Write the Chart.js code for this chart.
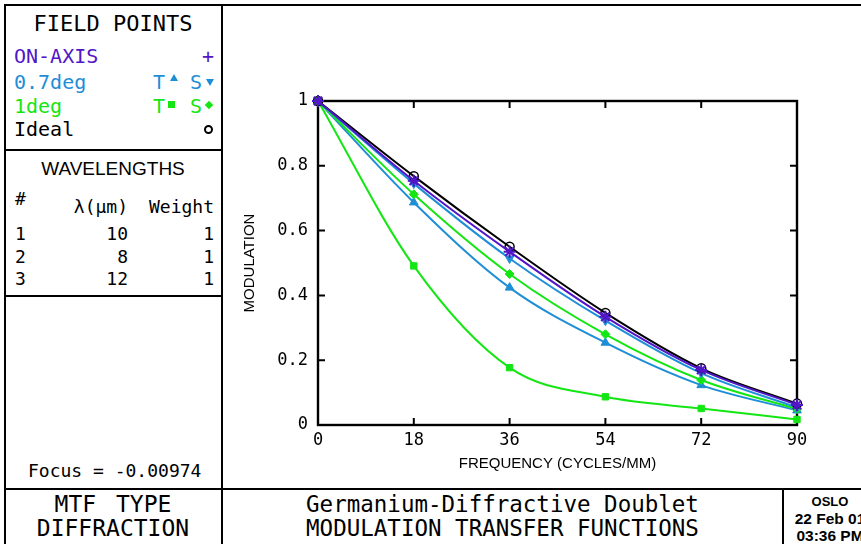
<!DOCTYPE html>
<html>
<head>
<meta charset="UTF-8">
<script src="https://cdn.jsdelivr.net/npm/chart.js"></script>
<style>
  body { margin: 0; background: #fff; }
  #page { position: relative; width: 861px; height: 544px; overflow: hidden; background: #fff; }
  .ln { position: absolute; background: #000; }
  .tx { position: absolute; white-space: pre; line-height: 1; font-family: "DejaVu Sans Mono", monospace; color: #000; }
  .sm { font-family: "Liberation Sans", sans-serif; font-weight: bold; }
  #plot { position: absolute; left: 223px; top: 6px; }
</style>
</head>
<body>
<div id="page">
  <!-- frame -->
  <div class="ln" style="left:4px;top:4px;width:857px;height:2px"></div>
  <div class="ln" style="left:4px;top:4px;width:2px;height:540px"></div>
  <div class="ln" style="left:221px;top:4px;width:2px;height:540px"></div>
  <div class="ln" style="left:4px;top:149px;width:218px;height:2px"></div>
  <div class="ln" style="left:4px;top:295px;width:218px;height:2px"></div>
  <div class="ln" style="left:4px;top:488px;width:857px;height:2px"></div>
  <div class="ln" style="left:782px;top:488px;width:2px;height:56px"></div>

  <!-- field points -->
  <div class="tx" style="left:4px;width:218px;text-align:center;top:13px;font-size:22px">FIELD POINTS</div>
  <div class="tx" style="left:14px;top:46px;font-size:20px;color:#5216c8">ON-AXIS</div>
  <div class="tx" style="left:202px;top:46px;font-size:20px;color:#5216c8">+</div>
  <div class="tx" style="left:14px;top:72px;font-size:20px;color:#1e8ed6">0.7deg</div>
  <div class="tx" style="left:153px;top:72px;font-size:20px;color:#1e8ed6">T</div>
  <div class="tx" style="left:190px;top:72px;font-size:20px;color:#1e8ed6">S</div>
  <div style="position:absolute;left:170px;top:74px;width:0;height:0;border-left:4px solid transparent;border-right:4px solid transparent;border-bottom:7px solid #1e8ed6"></div>
  <div style="position:absolute;left:206px;top:79px;width:0;height:0;border-left:4px solid transparent;border-right:4px solid transparent;border-top:7px solid #1e8ed6"></div>
  <div class="tx" style="left:14px;top:96px;font-size:20px;color:#14e614">1deg</div>
  <div class="tx" style="left:153px;top:96px;font-size:20px;color:#14e614">T</div>
  <div class="tx" style="left:190px;top:96px;font-size:20px;color:#14e614">S</div>
  <div style="position:absolute;left:168px;top:101px;width:7px;height:7px;background:#14e614"></div>
  <div style="position:absolute;left:206px;top:102px;width:6px;height:6px;background:#14e614;transform:rotate(45deg)"></div>
  <div class="tx" style="left:14px;top:119px;font-size:20px">Ideal</div>
  <div style="position:absolute;left:204px;top:125px;width:5px;height:5px;border:2px solid #000;border-radius:50%"></div>

  <!-- wavelengths -->
  <div class="tx" style="left:4px;width:218px;text-align:center;top:159px;font-size:19px;font-family:'Liberation Sans',sans-serif">WAVELENGTHS</div>
  <div class="tx" style="left:15px;top:190px;font-size:18px">#</div>
  <div class="tx" style="left:57px;width:71px;text-align:right;top:198px;font-size:18px">λ(μm)</div>
  <div class="tx" style="left:140px;width:74px;text-align:right;top:198px;font-size:18px">Weight</div>
  <div id="wlRows"></div>

  <div class="tx" style="left:28px;top:462px;font-size:18px">Focus = -0.00974</div>

  <!-- title block -->
  <div class="tx" style="left:4px;width:218px;text-align:center;top:493px;font-size:23px;word-spacing:6px">MTF TYPE</div>
  <div class="tx" style="left:4px;width:218px;text-align:center;top:517px;font-size:23px">DIFFRACTION</div>
  <div class="tx" style="left:222px;width:561px;text-align:center;top:493px;font-size:22.5px">Germanium-Diffractive Doublet</div>
  <div class="tx" style="left:222px;width:561px;text-align:center;top:517px;font-size:22.5px">MODULATION TRANSFER FUNCTIONS</div>
  <div class="tx sm" style="left:784px;width:92px;text-align:center;top:495px;font-size:13px">OSLO</div>
  <div class="tx sm" style="left:784px;width:92px;text-align:center;top:511px;font-size:15.5px">22 Feb 01</div>
  <div class="tx sm" style="left:784px;width:92px;text-align:center;top:528px;font-size:15.5px">03:36 PM</div>

  <canvas id="plot" width="638" height="482"></canvas>
</div>

<script>
// wavelength table
const wlIndex = ['1', '2', '3'];
const wlMicrons = ['10', '8', '12'];
const wlWeight = ['1', '1', '1'];

// MTF data (frequency in cycles/mm)
const freq = [0, 18, 36, 54, 72, 90];
const ideal  = [1, 0.768, 0.550, 0.346, 0.175, 0.066];
const onAxis = [1, 0.754, 0.535, 0.334, 0.170, 0.062];
const s07    = [1, 0.745, 0.514, 0.322, 0.160, 0.054];
const t07    = [1, 0.687, 0.424, 0.254, 0.123, 0.045];
const s1     = [1, 0.712, 0.466, 0.280, 0.139, 0.049];
const t1     = [1, 0.491, 0.177, 0.087, 0.051, 0.017];

const yTicks = [0, 0.2, 0.4, 0.6, 0.8, 1];

const rows = document.getElementById('wlRows');
const rowTops = [225, 248, 270];
wlIndex.forEach((n, i) => {
    rows.innerHTML +=
        `<div class="tx" style="left:15px;top:${rowTops[i]}px;font-size:18px">${n}</div>` +
        `<div class="tx" style="left:60px;width:68px;text-align:right;top:${rowTops[i]}px;font-size:18px">${wlMicrons[i]}</div>` +
        `<div class="tx" style="left:150px;width:64px;text-align:right;top:${rowTops[i]}px;font-size:18px">${wlWeight[i]}</div>`;
});

const PURPLE = '#5216c8', BLUE = '#1e8ed6', GREEN = '#14e614';

function series(vals, color, style, extra = {}) {
    return {
        data: freq.map((f, i) => ({ x: f, y: vals[i] })),
        borderColor: color,
        backgroundColor: color,
        pointBorderColor: color,
        pointBackgroundColor: color,
        borderWidth: 2,
        pointStyle: style,
        pointRadius: 5,
        pointBorderWidth: 1,
        cubicInterpolationMode: 'monotone',
        clip: false,
        ...extra
    };
}

// inward tick marks + plot box
const boxPlugin = {
    id: 'box',
    beforeDatasetsDraw(chart) {
        const { ctx, chartArea: a, scales } = chart;
        ctx.save();
        ctx.strokeStyle = '#000';
        ctx.lineWidth = 2.4;
        ctx.strokeRect(a.left, a.top, a.right - a.left, a.bottom - a.top);
        ctx.beginPath();
        ctx.lineWidth = 2;
        freq.forEach(v => {
            const px = scales.x.getPixelForValue(v);
            ctx.moveTo(px, a.bottom); ctx.lineTo(px, a.bottom - 7);
            ctx.moveTo(px, a.top); ctx.lineTo(px, a.top + 7);
        });
        yTicks.forEach(v => {
            const py = scales.y.getPixelForValue(v);
            ctx.moveTo(a.left, py); ctx.lineTo(a.left + 7, py);
            ctx.moveTo(a.right, py); ctx.lineTo(a.right - 7, py);
        });
        ctx.stroke();
        ctx.restore();
    }
};

Chart.defaults.font.family = "'DejaVu Sans Mono', monospace";
Chart.defaults.color = '#000';

new Chart(document.getElementById('plot'), {
    type: 'line',
    data: {
        datasets: [
            series(onAxis, PURPLE, 'star', { pointRadius: 6, pointBorderWidth: 2 }),
            series(ideal, '#000', 'circle', { pointBackgroundColor: 'rgba(0,0,0,0)', pointBorderWidth: 1.5, pointRadius: 4.5 }),
            series(s07, BLUE, 'triangle', { pointRotation: 180 }),
            series(s1, GREEN, 'rectRot', { pointRadius: 4.5 }),
            series(t07, BLUE, 'triangle'),
            series(t1, GREEN, 'rect', { pointRadius: 4.5 })
        ]
    },
    options: {
        responsive: false,
        animation: false,
        layout: { padding: { left: 18, right: 64, top: 95, bottom: 15 } },
        plugins: { legend: { display: false }, tooltip: { enabled: false } },
        scales: {
            x: {
                type: 'linear', min: 0, max: 90,
                grid: { display: false, drawTicks: false },
                border: { display: false },
                ticks: { stepSize: 18, padding: 5, font: { size: 17 }, maxRotation: 0 },
                title: { display: true, text: 'FREQUENCY (CYCLES/MM)', padding: 0,
                         font: { family: "'Liberation Sans', sans-serif", size: 15 } },
                afterFit(s) { s.height = 48; }
            },
            y: {
                type: 'linear', min: 0, max: 1,
                grid: { display: false, drawTicks: false },
                border: { display: false },
                ticks: { stepSize: 0.2, padding: 10, font: { size: 17 },
                         callback: v => String(Number(v.toFixed(1))) },
                title: { display: true, text: 'MODULATION', padding: 0,
                         font: { family: "'Liberation Sans', sans-serif", size: 15 } },
                afterFit(s) { s.width = 77; }
            }
        }
    },
    plugins: [boxPlugin]
});
</script>
</body>
</html>
